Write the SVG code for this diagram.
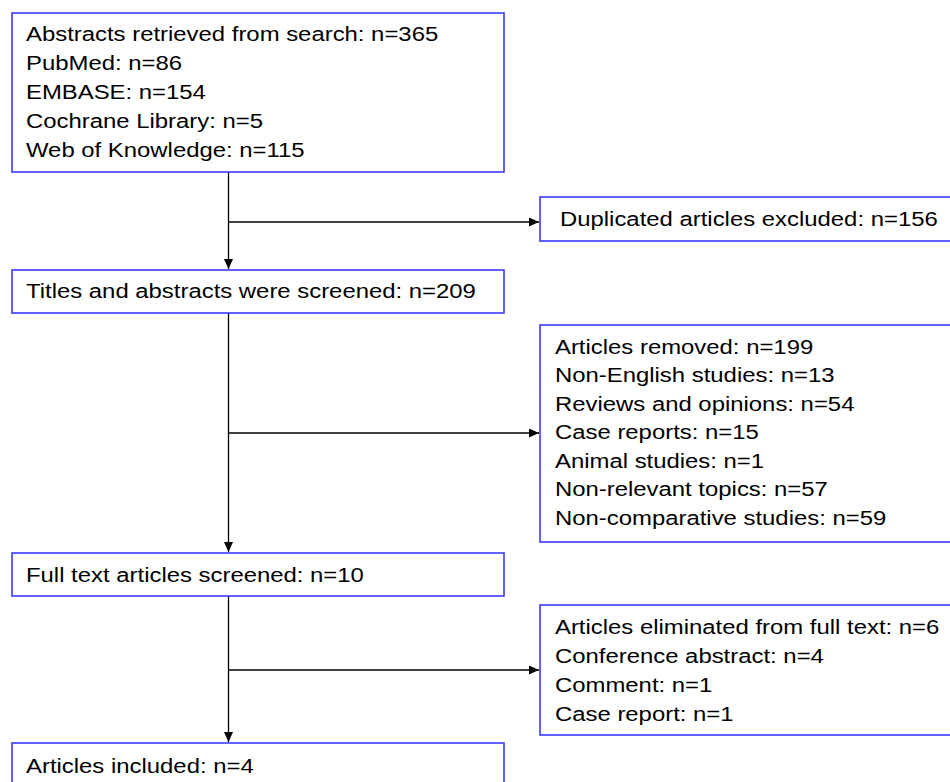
<svg xmlns="http://www.w3.org/2000/svg" width="950" height="782" viewBox="0 0 950 782">
<style>
.box{fill:#fff;stroke:#3b3bff;stroke-width:1.6}
.t{font-family:"Liberation Sans",Arial,sans-serif;font-size:21px;fill:#000}
.c{stroke:#000;stroke-width:1.3;fill:none}
</style>
<defs>
<marker id="ah" markerWidth="10" markerHeight="9" refX="10" refY="4.5" orient="auto" markerUnits="userSpaceOnUse">
<path d="M0,0 L10,4.5 L0,9 Z" fill="#000"/>
</marker>
</defs>
<rect width="950" height="782" fill="#fff"/>
<g id="connectors">
<line class="c" x1="228.5" y1="172" x2="228.5" y2="269" marker-end="url(#ah)"/>
<line class="c" x1="228.5" y1="222" x2="539" y2="222" marker-end="url(#ah)"/>
<line class="c" x1="228.5" y1="313" x2="228.5" y2="552" marker-end="url(#ah)"/>
<line class="c" x1="228.5" y1="433" x2="539" y2="433" marker-end="url(#ah)"/>
<line class="c" x1="228.5" y1="596" x2="228.5" y2="742" marker-end="url(#ah)"/>
<line class="c" x1="228.5" y1="670" x2="539" y2="670" marker-end="url(#ah)"/>
</g>
<g id="n1">
<rect class="box" x="12" y="13" width="492" height="159"/>
<g transform="translate(26,0) scale(1.138,1) translate(-26,0)">
<text class="t" x="26" y="41">Abstracts retrieved from search: n=365</text>
<text class="t" x="26" y="70">PubMed: n=86</text>
<text class="t" x="26" y="99">EMBASE: n=154</text>
<text class="t" x="26" y="128">Cochrane Library: n=5</text>
<text class="t" x="26" y="157">Web of Knowledge: n=115</text>
</g>
</g>
<g id="n2">
<rect class="box" x="540" y="197" width="420" height="44"/>
<g transform="translate(560,0) scale(1.138,1) translate(-560,0)">
<text class="t" x="560" y="226">Duplicated articles excluded: n=156</text>
</g>
</g>
<g id="n3">
<rect class="box" x="12" y="270" width="492" height="43"/>
<g transform="translate(26,0) scale(1.138,1) translate(-26,0)">
<text class="t" x="26" y="298">Titles and abstracts were screened: n=209</text>
</g>
</g>
<g id="n4">
<rect class="box" x="540" y="325" width="420" height="217"/>
<g transform="translate(555,0) scale(1.138,1) translate(-555,0)">
<text class="t" x="555" y="354">Articles removed: n=199</text>
<text class="t" x="555" y="382.5">Non-English studies: n=13</text>
<text class="t" x="555" y="411">Reviews and opinions: n=54</text>
<text class="t" x="555" y="439.5">Case reports: n=15</text>
<text class="t" x="555" y="468">Animal studies: n=1</text>
<text class="t" x="555" y="496.5">Non-relevant topics: n=57</text>
<text class="t" x="555" y="525">Non-comparative studies: n=59</text>
</g>
</g>
<g id="n5">
<rect class="box" x="12" y="553" width="492" height="43"/>
<g transform="translate(26,0) scale(1.138,1) translate(-26,0)">
<text class="t" x="26" y="582">Full text articles screened: n=10</text>
</g>
</g>
<g id="n6">
<rect class="box" x="540" y="605" width="420" height="130"/>
<g transform="translate(555,0) scale(1.138,1) translate(-555,0)">
<text class="t" x="555" y="634">Articles eliminated from full text: n=6</text>
<text class="t" x="555" y="663">Conference abstract: n=4</text>
<text class="t" x="555" y="692">Comment: n=1</text>
<text class="t" x="555" y="721">Case report: n=1</text>
</g>
</g>
<g id="n7">
<rect class="box" x="12" y="743" width="492" height="60"/>
<g transform="translate(26,0) scale(1.138,1) translate(-26,0)">
<text class="t" x="26" y="773">Articles included: n=4</text>
</g>
</g>
</svg>
